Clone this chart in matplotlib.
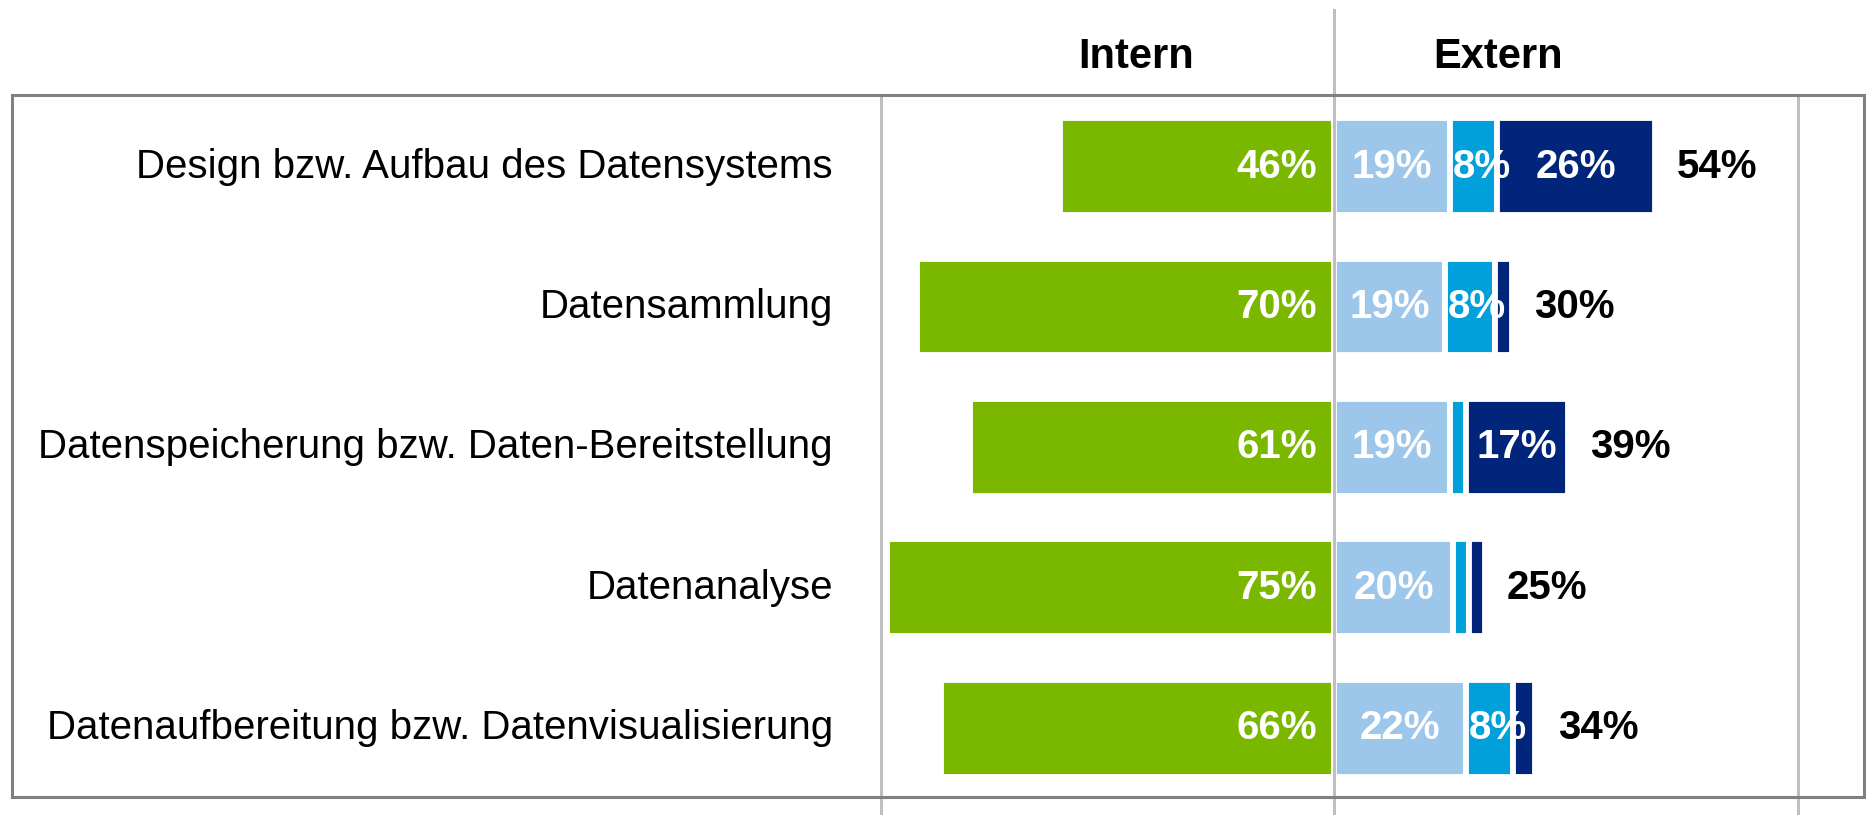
import numpy as np
import matplotlib
matplotlib.use("Agg")
import matplotlib.pyplot as plt
from matplotlib.patches import Rectangle

plt.rcParams["font.family"] = ["Liberation Sans", "DejaVu Sans"]

CATEGORIES = [
    "Design bzw. Aufbau des Datensystems",
    "Datensammlung",
    "Datenspeicherung bzw. Daten-Bereitstellung",
    "Datenanalyse",
    "Datenaufbereitung bzw. Datenvisualisierung",
]
INTERN = [46, 70, 61, 75, 66]
EXTERN_LIGHT = [19.4, 18.7, 19.4, 20.0, 22.1]
EXTERN_MEDIUM = [8.0, 8.3, 2.8, 2.6, 8.0]
EXTERN_DARK = [26.4, 2.9, 17.1, 2.7, 3.7]

GREEN = "#7ab800"
LIGHT = "#9cc6ea"
MEDIUM = "#00a1db"
DARK = "#00257b"
GRID = "#bfbfbf"
FRAME = "#808080"

W, H = 1866, 815
X0_PX = 1334          # pixel of the 0 % line
PX_PER_PCT = 5.96
ROW0_PX = 166.6
ROW_PX = 140.4

fig = plt.figure(figsize=(W / 100, H / 100), dpi=100)
ax = fig.add_axes([0, 0, 1, 1])
ax.set_xlim(-X0_PX / PX_PER_PCT, (W - X0_PX) / PX_PER_PCT)
ax.set_ylim((H - ROW0_PX) / ROW_PX, -ROW0_PX / ROW_PX)
ax.axis("off")

y = np.arange(len(CATEGORIES))
bar_h = 0.69
edge = dict(edgecolor="white", linewidth=4.2)

intern = np.array(INTERN, dtype=float)
ax.barh(y, intern, left=-intern, height=bar_h, color=GREEN, **edge)

left = np.zeros(len(CATEGORIES))
segments = []
for vals, col in [(EXTERN_LIGHT, LIGHT), (EXTERN_MEDIUM, MEDIUM), (EXTERN_DARK, DARK)]:
    vals = np.array(vals)
    ax.barh(y, vals, left=left, height=bar_h, color=col, **edge)
    segments.append((left.copy(), vals))
    left = left + vals

lab = dict(fontsize=29, fontweight="bold", va="center", zorder=8)
for i in y:
    ax.annotate(f"{INTERN[i]}%", (0, i), xytext=(-12, 0), textcoords="offset points",
                ha="right", color="white", **lab)
    for seg_left, vals in segments:
        if vals[i] >= 10:
            ax.text(seg_left[i] + vals[i] / 2, i, f"{round(vals[i])}%",
                    ha="center", color="white", **lab)
        elif vals[i] >= 5:
            # narrow segment: label starts at the bar and runs over its end
            ax.annotate(f"{round(vals[i])}%", (seg_left[i], i), xytext=(2, 0),
                        textcoords="offset points", ha="left", color="white", **lab)
    ax.annotate(f"{round(left[i])}%", (left[i], i), xytext=(16, 0),
                textcoords="offset points", ha="left", color="black", **lab)
    ax.annotate(CATEGORIES[i], (-X0_PX / PX_PER_PCT, i), xytext=(833 * 0.72, 0),
                textcoords="offset points", ha="right", va="center", fontsize=29)

# frame and vertical guide lines
box_top = 1 - 95 / H
box_bot = 1 - 797 / H
fig.add_artist(Rectangle((12 / W, box_bot), (W - 14) / W, box_top - box_bot,
                         transform=fig.transFigure, fill=False,
                         edgecolor=FRAME, linewidth=2.2, zorder=5))
ax.axvline(0, ymin=0, ymax=1 - 10 / H, color=GRID, linewidth=2.2, zorder=6)
for gx in [(881 - X0_PX) / PX_PER_PCT, (1798 - X0_PX) / PX_PER_PCT]:
    ax.axvline(gx, ymin=0, ymax=box_top, color=GRID, linewidth=2.2, zorder=6)

fig.text(1136 / W, 1 - 57 / H, "Intern", ha="center", va="center",
         fontsize=30, fontweight="bold")
fig.text(1498 / W, 1 - 57 / H, "Extern", ha="center", va="center",
         fontsize=30, fontweight="bold")

fig.savefig("out.png", dpi=100)
